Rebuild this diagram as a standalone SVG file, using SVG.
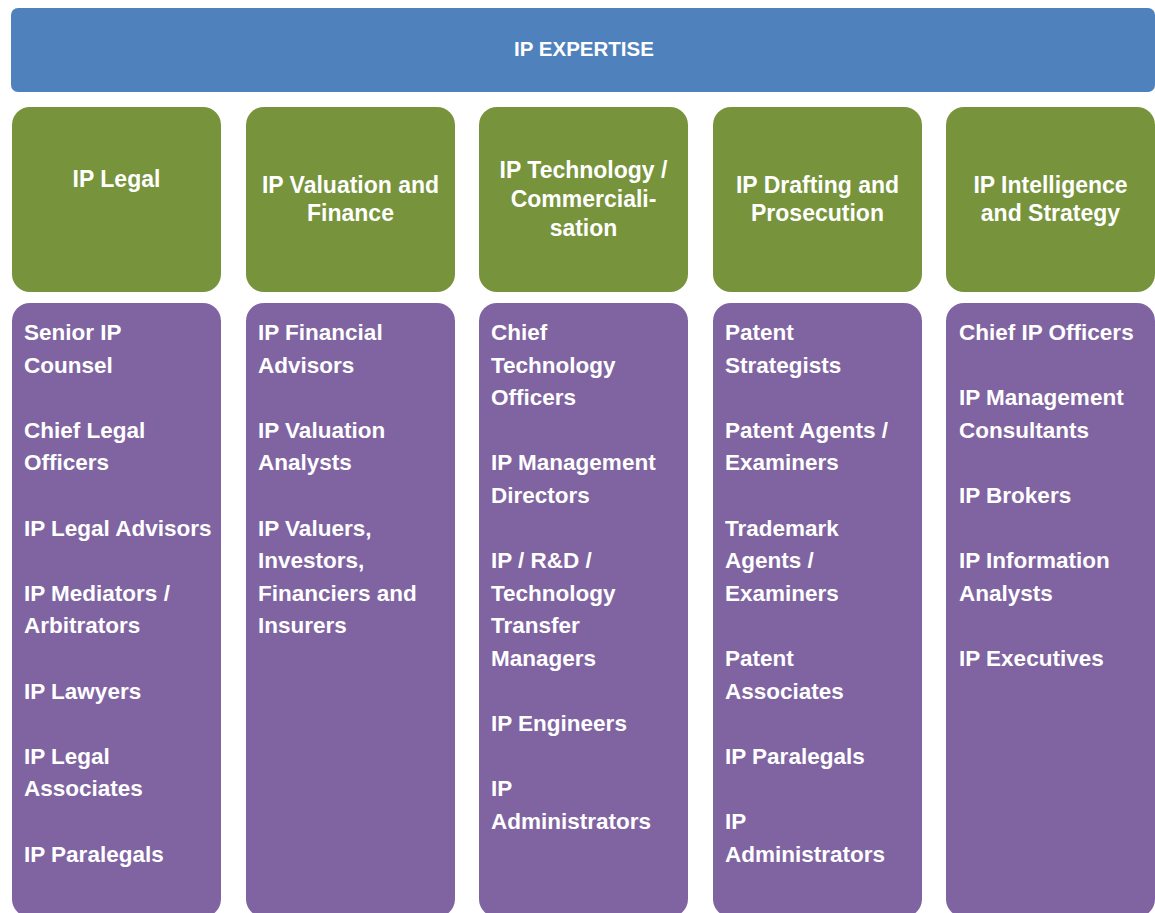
<svg xmlns="http://www.w3.org/2000/svg" width="1155" height="913" viewBox="0 0 1155 913">
<style>
.bar{fill:#4F81BD}
.hd{fill:#77933C}
.bd{fill:#8064A2}
text{font-family:"Liberation Sans",Arial,sans-serif;font-weight:bold;fill:#FFFFFF;font-size:22.5px}
.c{text-anchor:middle;font-size:23px}
.t{font-size:20.5px}
</style>
<rect width="1155" height="913" fill="#FFFFFF"/>
<g id="title">
<rect class="bar" x="11" y="8" width="1144" height="84" rx="7"/>
<text class="c t" x="584" y="56">IP EXPERTISE</text>
</g>
<g id="h1"><rect class="hd" x="12" y="107" width="209" height="185" rx="18"/>
<text class="c" x="116.5" y="187">IP Legal</text></g>
<g id="h2"><rect class="hd" x="246" y="107" width="209" height="185" rx="18"/>
<text class="c" x="350.5" y="193">IP Valuation and</text><text class="c" x="350.5" y="221">Finance</text></g>
<g id="h3"><rect class="hd" x="479" y="107" width="209" height="185" rx="18"/>
<text class="c" x="583.5" y="178">IP Technology /</text><text class="c" x="583.5" y="207">Commerciali-</text><text class="c" x="583.5" y="236">sation</text></g>
<g id="h4"><rect class="hd" x="713" y="107" width="209" height="185" rx="18"/>
<text class="c" x="817.5" y="193">IP Drafting and</text><text class="c" x="817.5" y="221">Prosecution</text></g>
<g id="h5"><rect class="hd" x="946" y="107" width="209" height="185" rx="18"/>
<text class="c" x="1050.5" y="193">IP Intelligence</text><text class="c" x="1050.5" y="221">and Strategy</text></g>

<g id="b1"><rect class="bd" x="12" y="303" width="209" height="614" rx="18"/>
<text x="24" y="340">Senior IP</text>
<text x="24" y="373">Counsel</text>
<text x="24" y="438">Chief Legal</text>
<text x="24" y="470">Officers</text>
<text x="24" y="536">IP Legal Advisors</text>
<text x="24" y="601">IP Mediators /</text>
<text x="24" y="633">Arbitrators</text>
<text x="24" y="699">IP Lawyers</text>
<text x="24" y="764">IP Legal</text>
<text x="24" y="796">Associates</text>
<text x="24" y="862">IP Paralegals</text>
</g>
<g id="b2"><rect class="bd" x="246" y="303" width="209" height="614" rx="18"/>
<text x="258" y="340">IP Financial</text>
<text x="258" y="373">Advisors</text>
<text x="258" y="438">IP Valuation</text>
<text x="258" y="470">Analysts</text>
<text x="258" y="536">IP Valuers,</text>
<text x="258" y="568">Investors,</text>
<text x="258" y="601">Financiers and</text>
<text x="258" y="633">Insurers</text>
</g>
<g id="b3"><rect class="bd" x="479" y="303" width="209" height="614" rx="18"/>
<text x="491" y="340">Chief</text>
<text x="491" y="373">Technology</text>
<text x="491" y="405">Officers</text>
<text x="491" y="470">IP Management</text>
<text x="491" y="503">Directors</text>
<text x="491" y="568">IP / R&amp;D /</text>
<text x="491" y="601">Technology</text>
<text x="491" y="633">Transfer</text>
<text x="491" y="666">Managers</text>
<text x="491" y="731">IP Engineers</text>
<text x="491" y="796">IP</text>
<text x="491" y="829">Administrators</text>
</g>
<g id="b4"><rect class="bd" x="713" y="303" width="209" height="614" rx="18"/>
<text x="725" y="340">Patent</text>
<text x="725" y="373">Strategists</text>
<text x="725" y="438">Patent Agents /</text>
<text x="725" y="470">Examiners</text>
<text x="725" y="536">Trademark</text>
<text x="725" y="568">Agents /</text>
<text x="725" y="601">Examiners</text>
<text x="725" y="666">Patent</text>
<text x="725" y="699">Associates</text>
<text x="725" y="764">IP Paralegals</text>
<text x="725" y="829">IP</text>
<text x="725" y="862">Administrators</text>
</g>
<g id="b5"><rect class="bd" x="946" y="303" width="209" height="614" rx="18"/>
<text x="959" y="340">Chief IP Officers</text>
<text x="959" y="405">IP Management</text>
<text x="959" y="438">Consultants</text>
<text x="959" y="503">IP Brokers</text>
<text x="959" y="568">IP Information</text>
<text x="959" y="601">Analysts</text>
<text x="959" y="666">IP Executives</text>
</g>
<g id="connectors"></g>
</svg>
